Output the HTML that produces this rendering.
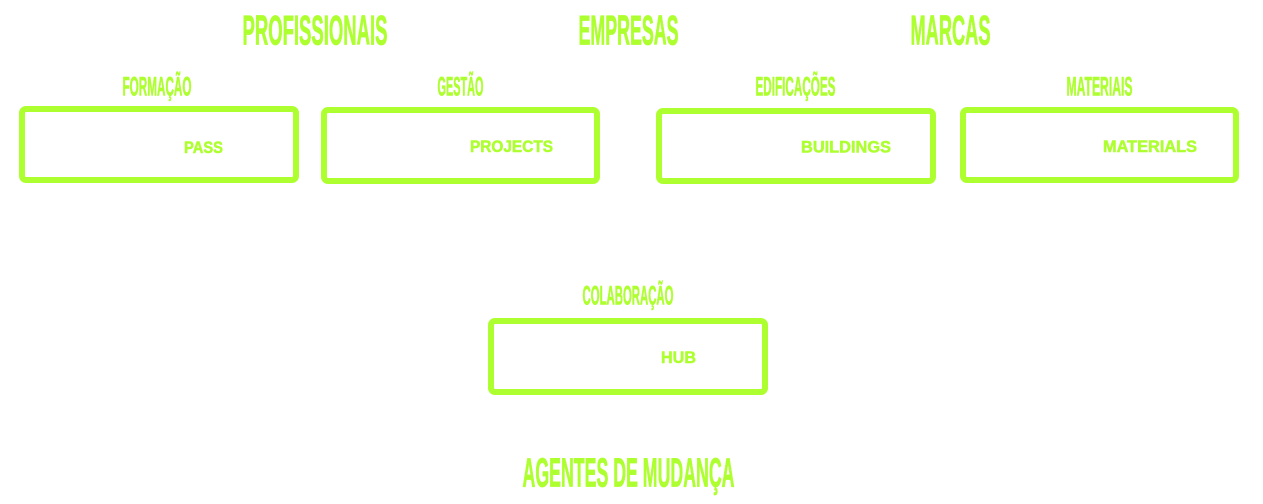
<!DOCTYPE html>
<html>
<head>
<meta charset="utf-8">
<style>
  html,body{margin:0;padding:0;background:#ffffff;}
  body{width:1263px;height:504px;overflow:hidden;}
  svg{display:block;}
  .h{font-family:"Liberation Sans",sans-serif;font-weight:bold;fill:#adff2f;stroke:#adff2f;stroke-width:0.8;stroke-linejoin:round;}
  .s{font-family:"Liberation Sans",sans-serif;font-weight:bold;fill:#adff2f;stroke:#adff2f;stroke-width:0.6;stroke-linejoin:round;}
  .b{font-family:"Liberation Sans",sans-serif;font-weight:bold;fill:#adff2f;stroke:#adff2f;stroke-width:0.5;stroke-linejoin:round;}
</style>
</head>
<body>
<svg width="1263" height="504" viewBox="0 0 1263 504" xmlns="http://www.w3.org/2000/svg">
  <rect x="0" y="0" width="1263" height="504" fill="#ffffff"/>

  <!-- Headlines -->
  <text class="h" x="242.5" y="44.5" font-size="42" textLength="145" lengthAdjust="spacingAndGlyphs">PROFISSIONAIS</text>
  <text class="h" x="578.5" y="44.5" font-size="42" textLength="100" lengthAdjust="spacingAndGlyphs">EMPRESAS</text>
  <text class="h" x="910.5" y="44.5" font-size="42" textLength="80" lengthAdjust="spacingAndGlyphs">MARCAS</text>

  <!-- Sub labels -->
  <text class="s" x="122.5" y="95.5" font-size="27" textLength="69" lengthAdjust="spacingAndGlyphs">FORMAÇÃO</text>
  <text class="s" x="437.5" y="95.5" font-size="27" textLength="46" lengthAdjust="spacingAndGlyphs">GESTÃO</text>
  <text class="s" x="755.5" y="95.5" font-size="27" textLength="80" lengthAdjust="spacingAndGlyphs">EDIFICAÇÕES</text>
  <text class="s" x="1066.5" y="95.5" font-size="27" textLength="66" lengthAdjust="spacingAndGlyphs">MATERIAIS</text>
  <text class="s" x="582.5" y="304.5" font-size="27" textLength="91" lengthAdjust="spacingAndGlyphs">COLABORAÇÃO</text>

  <!-- Boxes -->
  <g fill="none" stroke="#adff2f" stroke-width="6">
    <rect x="22" y="109" width="274" height="71" rx="4" ry="4"/>
    <rect x="324" y="110" width="273" height="71" rx="4" ry="4"/>
    <rect x="659" y="111" width="274" height="70" rx="4" ry="4"/>
    <rect x="963" y="110" width="273" height="70" rx="4" ry="4"/>
    <rect x="491" y="321" width="274" height="71" rx="4" ry="4"/>
  </g>

  <!-- Box labels -->
  <text class="b" x="184" y="153" font-size="16.5" textLength="39" lengthAdjust="spacingAndGlyphs">PASS</text>
  <text class="b" x="470" y="152" font-size="16.5" textLength="83" lengthAdjust="spacingAndGlyphs">PROJECTS</text>
  <text class="b" x="801" y="152.5" font-size="16.5" textLength="90" lengthAdjust="spacingAndGlyphs">BUILDINGS</text>
  <text class="b" x="1103" y="152" font-size="16.5" textLength="94" lengthAdjust="spacingAndGlyphs">MATERIALS</text>
  <text class="b" x="661" y="363" font-size="16.5" textLength="35" lengthAdjust="spacingAndGlyphs">HUB</text>

  <!-- Bottom headline -->
  <text class="h" x="522.5" y="486.5" font-size="40.5" textLength="212" lengthAdjust="spacingAndGlyphs">AGENTES DE MUDANÇA</text>
</svg>
</body>
</html>
